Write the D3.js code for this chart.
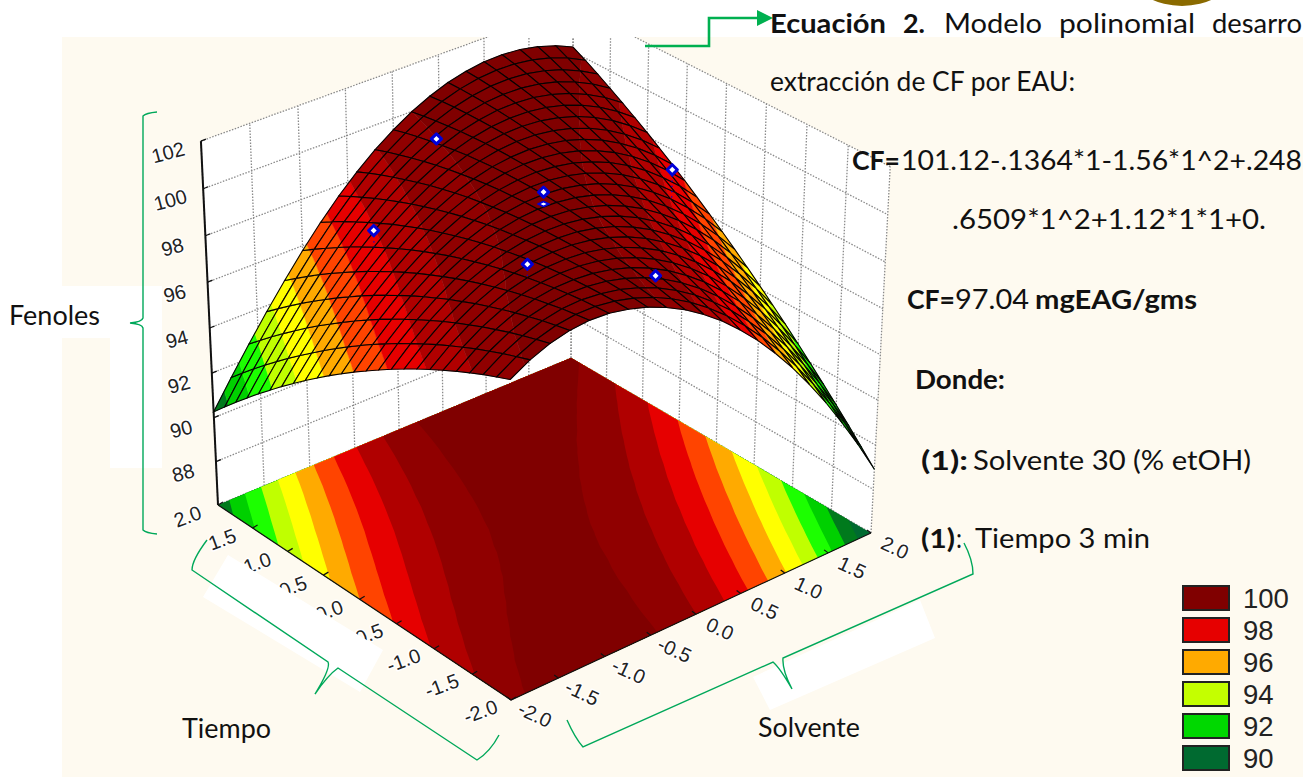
<!DOCTYPE html>
<html>
<head>
<meta charset="utf-8">
<script src="https://cdn.jsdelivr.net/npm/d3@7"></script>
<style>
  body { margin: 0; background: #fff; }
  text { font-family: Lato, "Open Sans", sans-serif; fill: #111; }
  .tick-label { font-family: "Liberation Sans", Arial, sans-serif; fill: #222; font-size: 20px;
                paint-order: stroke; stroke: #fff; stroke-width: 3px; stroke-linejoin: round; }
  .legend-label { font-family: "Liberation Sans", Arial, sans-serif; fill: #222; font-size: 27.5px; }
</style>
</head>
<body>
<svg id="chart" width="1303" height="777"></svg>
<script>
// factor axes
const solvente = [-2, -1.8, -1.6, -1.4, -1.2, -1, -0.8, -0.6, -0.4, -0.2, 0, 0.2, 0.4, 0.6, 0.8, 1, 1.2, 1.4, 1.6, 1.8, 2];
const tiempo = [-2, -1.833, -1.667, -1.5, -1.333, -1.167, -1, -0.833, -0.667, -0.5, -0.333, -0.167,
  0, 0.167, 0.333, 0.5, 0.667, 0.833, 1, 1.167, 1.333, 1.5, 1.667, 1.833, 2];

// fenoles: one row per solvente value, one column per tiempo value
const fenoles = [
  [99.66,99.43,99.20,98.94,98.67,98.39,98.09,97.78,97.45,97.11,96.75,96.38,96.00,95.60,95.19,94.76,94.32,93.86,93.39,92.90,92.41,91.89,91.36,90.82,90.26],
  [100.12,99.92,99.72,99.49,99.26,99.00,98.74,98.46,98.16,97.85,97.53,97.19,96.84,96.47,96.09,95.69,95.28,94.85,94.41,93.96,93.49,93.01,92.51,92.00,91.47],
  [100.45,100.29,100.12,99.93,99.72,99.51,99.27,99.03,98.77,98.49,98.20,97.90,97.58,97.25,96.90,96.54,96.16,95.77,95.37,94.95,94.51,94.06,93.60,93.12,92.63],
  [100.65,100.53,100.40,100.24,100.08,99.90,99.70,99.50,99.27,99.04,98.78,98.52,98.24,97.94,97.63,97.31,96.97,96.61,96.25,95.86,95.47,95.06,94.63,94.19,93.74],
  [100.73,100.65,100.56,100.44,100.32,100.18,100.03,99.86,99.68,99.48,99.27,99.04,98.80,98.55,98.28,97.99,97.69,97.38,97.05,96.71,96.36,95.99,95.60,95.20,94.79],
  [100.69,100.65,100.60,100.53,100.45,100.35,100.24,100.12,99.98,99.82,99.65,99.47,99.28,99.06,98.84,98.60,98.34,98.07,97.79,97.49,97.18,96.85,96.51,96.16,95.79],
  [100.53,100.54,100.53,100.51,100.47,100.42,100.36,100.28,100.18,100.07,99.95,99.81,99.66,99.49,99.31,99.12,98.91,98.68,98.45,98.19,97.92,97.64,97.35,97.04,96.71],
  [100.29,100.34,100.38,100.40,100.41,100.40,100.38,100.35,100.30,100.23,100.15,100.06,99.96,99.83,99.70,99.55,99.38,99.20,99.01,98.80,98.58,98.34,98.09,97.83,97.55],
  [99.95,100.05,100.13,100.20,100.25,100.29,100.32,100.33,100.32,100.30,100.27,100.22,100.16,100.08,99.99,99.89,99.77,99.63,99.49,99.32,99.14,98.95,98.75,98.53,98.29],
  [99.53,99.67,99.80,99.91,100.01,100.09,100.16,100.22,100.26,100.28,100.29,100.29,100.28,100.24,100.20,100.14,100.06,99.97,99.87,99.75,99.62,99.47,99.31,99.14,98.95],
  [99.01,99.20,99.37,99.53,99.67,99.80,99.92,100.02,100.10,100.17,100.23,100.27,100.30,100.31,100.31,100.30,100.27,100.22,100.17,100.09,100.00,99.90,99.79,99.66,99.51],
  [98.41,98.64,98.86,99.06,99.25,99.42,99.58,99.73,99.86,99.97,100.07,100.16,100.24,100.29,100.34,100.37,100.38,100.38,100.37,100.34,100.30,100.24,100.17,100.09,99.99],
  [97.71,97.99,98.25,98.50,98.73,98.95,99.16,99.35,99.52,99.68,99.83,99.96,100.08,100.18,100.27,100.35,100.41,100.45,100.49,100.50,100.50,100.49,100.47,100.43,100.37],
  [96.93,97.25,97.56,97.85,98.13,98.39,98.64,98.88,99.10,99.30,99.49,99.67,99.84,99.98,100.12,100.24,100.34,100.43,100.51,100.57,100.62,100.65,100.67,100.68,100.67],
  [96.05,96.42,96.77,97.11,97.43,97.74,98.04,98.32,98.58,98.83,99.07,99.29,99.50,99.69,99.87,100.04,100.19,100.32,100.45,100.55,100.64,100.72,100.79,100.84,100.87],
  [95.09,95.50,95.90,96.28,96.65,97.00,97.34,97.67,97.98,98.27,98.55,98.82,99.08,99.31,99.54,99.75,99.94,100.12,100.29,100.44,100.58,100.70,100.81,100.91,100.99],
  [94.03,94.49,94.93,95.36,95.77,96.17,96.56,96.93,97.28,97.62,97.95,98.26,98.56,98.84,99.11,99.37,99.61,99.83,100.05,100.24,100.42,100.59,100.75,100.89,101.01],
  [92.89,93.39,93.88,94.35,94.81,95.25,95.68,96.10,96.50,96.88,97.25,97.61,97.96,98.28,98.60,98.90,99.18,99.45,99.71,99.95,100.18,100.39,100.59,100.78,100.95],
  [91.65,92.20,92.73,93.25,93.75,94.24,94.72,95.18,95.62,96.05,96.47,96.87,97.26,97.63,97.99,98.34,98.67,98.98,99.29,99.57,99.84,100.10,100.35,100.58,100.79],
  [90.33,90.92,91.50,92.06,92.61,93.14,93.66,94.17,94.66,95.13,95.59,96.04,96.48,96.89,97.30,97.69,98.06,98.42,98.77,99.10,99.42,99.72,100.01,100.29,100.55],
  [88.91,89.55,90.17,90.78,91.37,91.95,92.52,93.07,93.60,94.12,94.63,95.12,95.60,96.06,96.51,96.95,97.37,97.77,98.17,98.54,98.90,99.25,99.59,99.91,100.21]
];

// the observed runs (blue diamonds)
const pointSolvente = [0, -1, 0, 1.41, 0, 0, -1];
const pointTiempo = [1.41, 1, -1.41, 0, 0, 0, -1];
const pointFenoles = [100.15, 98.5, 99.5, 99.2, 99.9, 100.4, 100.8];

const zTicks = [88, 90, 92, 94, 96, 98, 100, 102];
const tiempoTicks = [2, 1.5, 1, 0.5, 0, -0.5, -1, -1.5, -2];
const solventeTicks = [-2, -1.5, -1, -0.5, 0, 0.5, 1, 1.5, 2];

const bandLimits = [90, 91, 92, 93, 94, 95, 96, 97, 98, 99, 100];
const bandColors = ["#006a30", "#007a1c", "#00d000", "#1cff00", "#c0ff00", "#ffff00", "#ffaa00", "#ff4400", "#e60000", "#b00000", "#900000", "#800000"];

const legendLabels = ["100", "98", "96", "94", "92", "90"];
const legendColors = ["#800000", "#e60000", "#ffaa00", "#c4ff00", "#00d800", "#006a30"];

const svg = d3.select("#chart");
const zFloor = 86, zTop = 102;

// projective camera: floor corners on screen + vanishing point of the vertical axis
const L = [218, 505], B = [571, 358], R = [871, 533], F = [511, 700];
const vp = [527, 7090];
const uScale = d3.scaleLinear().domain([-2, 2]).range([0, 1]);
const vScale = d3.scaleLinear().domain([2, -2]).range([0, 1]);
const qScale = d3.scaleLinear().domain([zFloor, zTop]).range([0, -0.05237]);

const dx1 = B[0] - R[0], dx2 = F[0] - R[0], sx = L[0] - B[0] + R[0] - F[0];
const dy1 = B[1] - R[1], dy2 = F[1] - R[1], sy = L[1] - B[1] + R[1] - F[1];
const det = dx1 * dy2 - dx2 * dy1;
const hg = (sx * dy2 - dx2 * sy) / det, hh = (dx1 * sy - sx * dy1) / det;
const ha = B[0] - L[0] + hg * B[0], hb = F[0] - L[0] + hh * F[0];
const hd = B[1] - L[1] + hg * B[1], he = F[1] - L[1] + hh * F[1];

function homog(s, t, z) {
  const u = uScale(s), v = vScale(t), q = qScale(z);
  return [ha * u + hb * v + L[0] + q * vp[0], hd * u + he * v + L[1] + q * vp[1], hg * u + hh * v + 1 + q];
}
function proj(s, t, z) {
  const p = homog(s, t, z);
  return [p[0] / p[2], p[1] / p[2]];
}
const line = d3.line();
const closed = d3.line().curve(d3.curveLinearClosed);

// clip a cell polygon to lo <= value <= hi
function clipSide(poly, limit, keepAbove) {
  const out = [];
  poly.forEach((a, i) => {
    const b = poly[(i + 1) % poly.length];
    const ina = keepAbove ? a.z >= limit : a.z <= limit;
    const inb = keepAbove ? b.z >= limit : b.z <= limit;
    if (ina) out.push(a);
    if (ina !== inb) {
      const f = (limit - a.z) / (b.z - a.z);
      out.push({ s: a.s + f * (b.s - a.s), t: a.t + f * (b.t - a.t), z: limit });
    }
  });
  return out;
}
function bandsOfCell(cell) {
  const res = [];
  d3.range(bandColors.length).forEach(k => {
    let poly = cell;
    if (k > 0) poly = clipSide(poly, bandLimits[k - 1], true);
    if (poly.length && k < bandLimits.length) poly = clipSide(poly, bandLimits[k], false);
    if (poly.length > 2) res.push({ poly, fill: bandColors[k] });
  });
  return res;
}

const cells = [];
d3.range(solvente.length - 1).forEach(i => {
  d3.range(tiempo.length - 1).forEach(j => {
    const corner = (a, b) => ({ s: solvente[a], t: tiempo[b], z: fenoles[a][b] });
    const poly = [corner(i, j), corner(i + 1, j), corner(i + 1, j + 1), corner(i, j + 1)];
    const mid = homog(d3.mean(poly, d => d.s), d3.mean(poly, d => d.t), d3.mean(poly, d => d.z));
    cells.push({ poly, depth: mid[2] });
  });
});
cells.sort((a, b) => b.depth - a.depth);

// page background
svg.append("rect").attr("x", 62).attr("y", 37).attr("width", 1241).attr("height", 740).attr("fill", "#fefaf0");
svg.append("rect").attr("x", 62).attr("y", 286).attr("width", 100).attr("height", 52).attr("fill", "#fff");
svg.append("rect").attr("x", 110).attr("y", 338).attr("width", 52).attr("height", 130).attr("fill", "#fff");
svg.append("ellipse").attr("cx", 1182).attr("cy", -22).attr("rx", 47).attr("ry", 28).attr("fill", "#8a6a00");

const defs = svg.append("defs");
defs.append("clipPath").attr("id", "plot-clip").append("rect")
  .attr("x", 0).attr("y", 37).attr("width", 1303).attr("height", 740);
const plot = svg.append("g").attr("clip-path", "url(#plot-clip)");

// back walls
const wallPts = [
  [proj(-2, 2, zFloor), proj(2, 2, zFloor), proj(2, 2, zTop), proj(-2, 2, zTop)],
  [proj(2, 2, zFloor), proj(2, -2, zFloor), proj(2, -2, zTop), proj(2, 2, zTop)]
];
plot.selectAll(".wall").data(wallPts).join("path")
  .attr("class", "wall").attr("d", d => closed(d)).attr("fill", "#fff");

const gridLines = [];
zTicks.concat([zFloor]).forEach(z => {
  gridLines.push([proj(-2, 2, z), proj(2, 2, z)]);
  gridLines.push([proj(2, 2, z), proj(2, -2, z)]);
});
solventeTicks.forEach(s => gridLines.push([proj(s, 2, zFloor), proj(s, 2, zTop)]));
tiempoTicks.forEach(t => gridLines.push([proj(2, t, zFloor), proj(2, t, zTop)]));
plot.selectAll(".grid").data(gridLines).join("path")
  .attr("class", "grid").attr("d", d => line(d))
  .attr("fill", "none").attr("stroke", "#8a8a8a").attr("stroke-width", 1.3).attr("stroke-dasharray", "1.5,1.5");

// contour map on the floor
const floor = plot.append("g");
const rowScale = d3.scaleLinear().domain([0, solvente.length - 1]).range([-2, 2]).clamp(true);
const colScale = d3.scaleLinear().domain([0, tiempo.length - 1]).range([-2, 2]).clamp(true);
const floorPt = ([cx, cy]) => proj(rowScale(cy - 0.5), colScale(cx - 0.5), zFloor);
floor.append("path").attr("d", closed([L, B, R, F])).attr("fill", bandColors[0]);
const contours = d3.contours().size([tiempo.length, solvente.length]).thresholds(bandLimits)(fenoles.flat());
contours.forEach((c, k) => {
  const d = c.coordinates.map(poly => poly.map(ring => closed(ring.map(floorPt))).join("")).join("");
  if (d) floor.append("path").attr("d", d).attr("fill", bandColors[k + 1]).attr("fill-rule", "evenodd");
});

// axes
const axisG = plot.append("g").attr("fill", "none").attr("stroke", "#111");
axisG.append("path").attr("d", line([proj(-2, 2, zFloor), proj(-2, 2, zTop)])).attr("stroke-width", 2);
axisG.append("path").attr("d", line([proj(-2, 2, zFloor), proj(-2, -2, zFloor), proj(2, -2, zFloor)])).attr("stroke-width", 1.2);
zTicks.forEach(z => {
  const p = proj(-2, 2, z);
  axisG.append("path").attr("d", line([p, [p[0] + 5, p[1] - 2]])).attr("stroke-width", 1.2);
});
tiempoTicks.forEach(t => {
  const p = proj(-2, t, zFloor);
  axisG.append("path").attr("d", line([p, [p[0] + 5, p[1] - 3]])).attr("stroke-width", 1.2);
});
solventeTicks.forEach(s => {
  const p = proj(s, -2, zFloor);
  axisG.append("path").attr("d", line([p, [p[0] - 4, p[1] - 3]])).attr("stroke-width", 1.2);
});

// fitted surface, back to front
const surface = plot.append("g");
cells.forEach(c => {
  bandsOfCell(c.poly).forEach(b => {
    surface.append("path")
      .attr("d", closed(b.poly.map(p => proj(p.s, p.t, p.z))))
      .attr("fill", b.fill).attr("stroke", b.fill).attr("stroke-width", 0.5);
  });
  surface.append("path")
    .attr("d", closed(c.poly.map(p => proj(p.s, p.t, p.z))))
    .attr("fill", "none").attr("stroke", "#050202").attr("stroke-width", 1.1);
});

// observed points with their stems
const marks = plot.append("g");
pointFenoles.forEach((z, i) => {
  const s = pointSolvente[i], t = pointTiempo[i];
  const below = fenoles[d3.bisectCenter(solvente, s)][d3.bisectCenter(tiempo, t)];
  if (below < z) {
    marks.append("path").attr("d", line([proj(s, t, z), proj(s, t, below)]))
      .attr("stroke", "#0000d0").attr("stroke-width", 1.3).attr("stroke-dasharray", "1.3,4");
  }
  const p = proj(s, t, z);
  // a run well under the surface only shows through as a flat sliver
  const squash = below > z + 0.3 ? 0.5 : 1;
  marks.append("path").attr("d", d3.symbol(d3.symbolSquare, 52)())
    .attr("transform", `translate(${p[0]},${p[1]}) scale(1,${squash}) rotate(45)`)
    .attr("fill", "#fff").attr("stroke", "#0000d8").attr("stroke-width", 3).attr("stroke-linejoin", "round");
});

// tick labels
zTicks.forEach(z => {
  const p = proj(-2, 2, z);
  svg.append("text").attr("class", "tick-label").attr("text-anchor", "middle")
    .attr("transform", `translate(${p[0] - 31},${p[1] + 18}) rotate(-15)`).text(z);
});
tiempoTicks.forEach(t => {
  const p = proj(-2, t, zFloor);
  svg.append("text").attr("class", "tick-label").attr("text-anchor", "middle")
    .attr("transform", `translate(${p[0] - 28},${p[1] + 18}) rotate(-20)`).text(t.toFixed(1));
});
solventeTicks.forEach(s => {
  const p = proj(s, -2, zFloor);
  svg.append("text").attr("class", "tick-label").attr("text-anchor", "middle")
    .attr("transform", `translate(${p[0] + 21},${p[1] + 21}) rotate(25)`).text(s.toFixed(1));
});

// white patches over the original axis titles
svg.append("polygon").attr("points", "228,555 383,650 360,692 203,597").attr("fill", "#fff");
svg.append("polygon").attr("points", "753,677 920,600 935,638 770,710").attr("fill", "#fff");

// green brackets and arrow
const green = "#00a85a";
const brackets = [
  "M157,112 Q146,113 143,116 L143,318 Q142,322 130,323 Q142,324 143,328 L143,530 Q146,533 157,534",
  "M207,540 Q192,560 192,570 L328,662 Q331,668 315,694 Q328,675 338,668 L477,760 Q490,752 499,735",
  "M567,720 Q575,738 583,747 L773,662 Q780,668 792,689 Q782,670 783,658 L973,574 Q973,560 964,543"
];
svg.selectAll(".bracket").data(brackets).join("path").attr("class", "bracket")
  .attr("d", d => d).attr("fill", "none").attr("stroke", green).attr("stroke-width", 1.4);
svg.append("path").attr("d", "M645,46 H709 V18 H760").attr("fill", "none").attr("stroke", "#00b050").attr("stroke-width", 2.6);
svg.append("polygon").attr("points", "757,10 773,18 757,26").attr("fill", "#00b050");

// legend
const legendY = d3.scalePoint().domain(legendLabels).range([598, 758]);
legendLabels.forEach((d, i) => {
  svg.append("rect").attr("x", 1183).attr("y", legendY(d) - 12).attr("width", 46).attr("height", 24)
    .attr("fill", legendColors[i]).attr("stroke", "#222").attr("stroke-width", 2);
  svg.append("text").attr("class", "legend-label").attr("x", 1243).attr("y", legendY(d) + 10).text(d);
});

// side text
const words = [
  ["Ecuación", 770, 33, 116, true], ["2.", 903, 33, 22, true], ["Modelo", 944, 33, 98], ["polinomial", 1059, 33, 136], ["desarro", 1212, 33, 90],
  ["extracción de CF por EAU:", 770, 91, 305],
  ["CF=", 852, 170, 48, true], ["101.12-.1364*1-1.56*1^2+.248", 901, 170, 401],
  [".6509*1^2+1.12*1*1+0.", 952, 229, 314],
  ["CF=", 907, 309, 48, true], ["97.04", 955, 309, 74], ["mgEAG/gms", 1035, 309, 162, true],
  ["Donde:", 915, 389, 90, true],
  ["(1):", 921, 470, 47, true], ["Solvente 30 (% etOH)", 973, 470, 278],
  ["(1)", 921, 548, 34, true], [":", 956, 548, 6], ["Tiempo 3 min", 975, 548, 175],
  ["Fenoles", 9, 325, 91], ["Tiempo", 182, 738, 89], ["Solvente", 758, 737, 102]
];
svg.selectAll(".side").data(words).join("text").attr("class", "side")
  .attr("x", d => d[1]).attr("y", d => d[2])
  .attr("textLength", d => d[3]).attr("lengthAdjust", "spacingAndGlyphs")
  .attr("font-size", 26).attr("font-weight", d => d[4] ? 700 : 400)
  .text(d => d[0]);
</script>
</body>
</html>
